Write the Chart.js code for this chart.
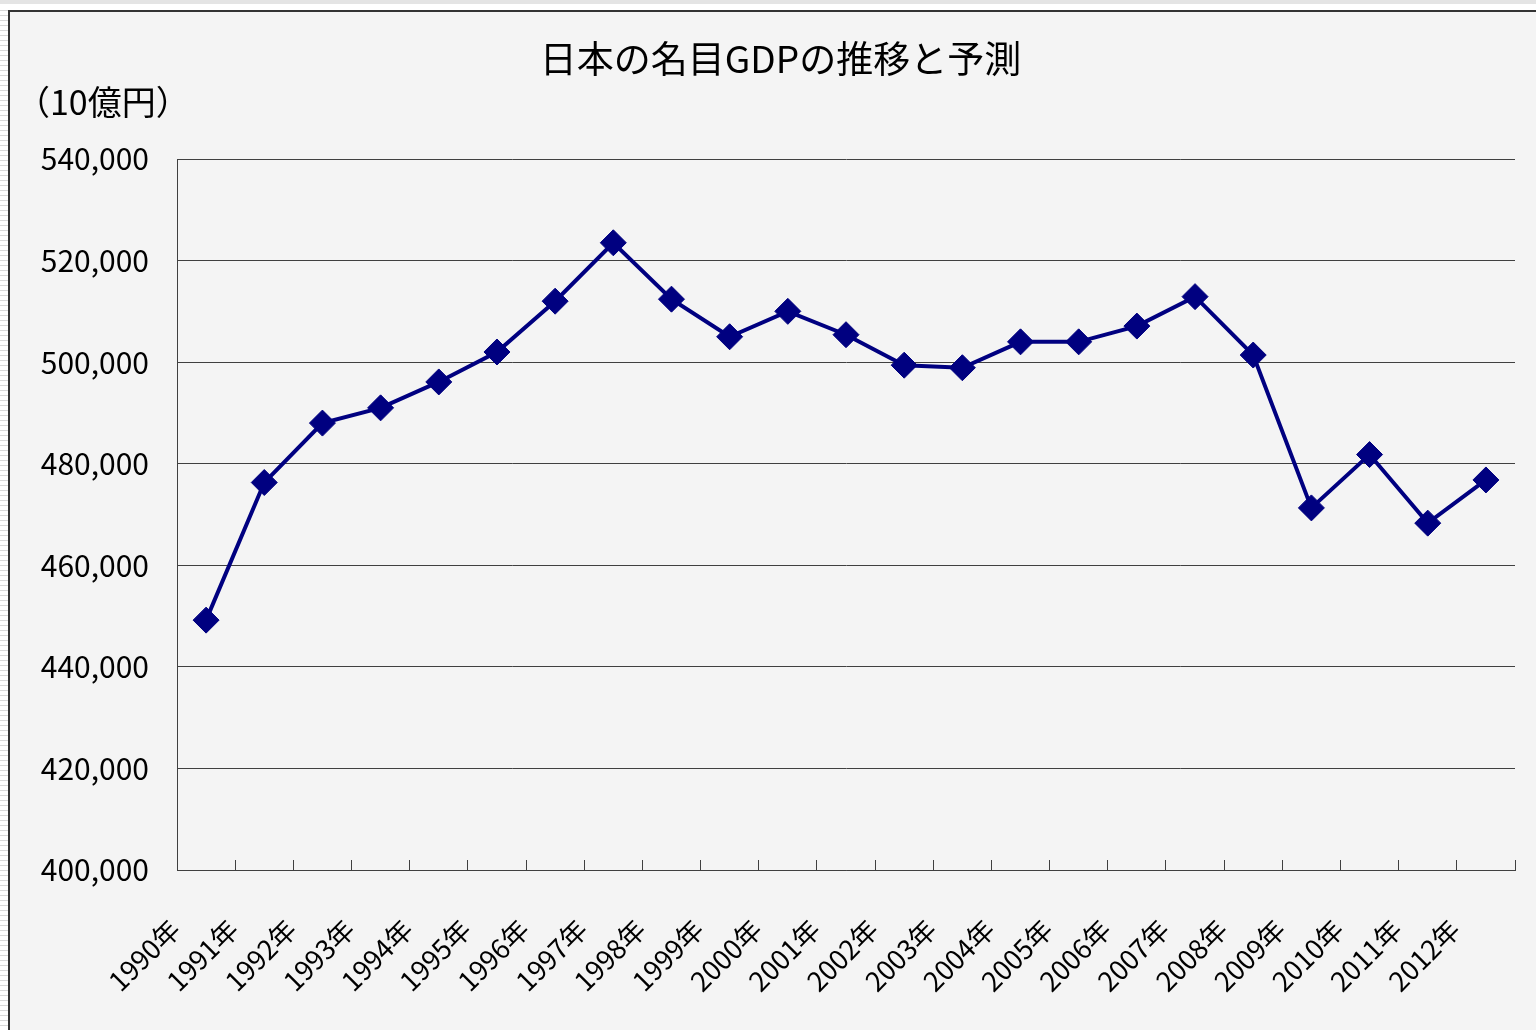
<!DOCTYPE html>
<html lang="ja">
<head>
<meta charset="utf-8">
<script src="https://cdn.jsdelivr.net/npm/chart.js@4/dist/chart.umd.min.js"></script>
<style>
  html, body { margin: 0; padding: 0; background: #ffffff; width: 1536px; height: 1030px; overflow: hidden; }
  #topstrip { position: absolute; left: 0; top: 0; width: 1536px; height: 4px; background: #e4e4e4; }
  #leftstrip { position: absolute; left: 0; top: 10px; width: 8px; height: 1020px;
    background: repeating-linear-gradient(to bottom, #d8d8d8 0px, #d8d8d8 1px, #ffffff 1px, #ffffff 5px); }
  #wrap { position: absolute; left: 8px; top: 10px; width: 1526px; height: 1018px;
    border-top: 2px solid #333; border-left: 2px solid #333; background: #f4f4f4; }
  #wrap canvas { display: block; }
</style>
</head>
<body>
<div id="topstrip"></div>
<div id="leftstrip"></div>
<div id="wrap"><canvas id="c" width="1526" height="1018"></canvas></div>
<script>
const chartTitle = '日本の名目GDPの推移と予測';
const unitLabel = '（10億円）';
const categories = ['1990年','1991年','1992年','1993年','1994年','1995年','1996年','1997年','1998年','1999年','2000年','2001年','2002年','2003年','2004年','2005年','2006年','2007年','2008年','2009年','2010年','2011年','2012年'];
const gdpValues = [449200, 476300, 488000, 491000, 496100, 502000, 512000, 523500, 512400, 505000, 510000, 505400, 499400, 498900, 504000, 504000, 507100, 512900, 501400, 471300, 481800, 468300, 476800];
const yMin = 400000;
const yMax = 540000;
const yStep = 20000;

const FONT = '"Noto Sans CJK JP", "Noto Sans", sans-serif';

const unitLabelPlugin = {
  id: 'unitLabel',
  afterDraw(chart) {
    const ctx = chart.ctx;
    ctx.save();
    ctx.font = '34px ' + FONT;
    ctx.fillStyle = '#000';
    ctx.textAlign = 'left';
    ctx.textBaseline = 'middle';
    ctx.fillText(unitLabel, 6, 90);
    ctx.restore();
  }
};

new Chart(document.getElementById('c'), {
  type: 'line',
  data: {
    labels: categories,
    datasets: [{
      data: gdpValues,
      borderColor: '#000080',
      backgroundColor: '#000080',
      borderWidth: 4,
      tension: 0,
      pointStyle: 'rectRot',
      pointRadius: 13,
      pointHoverRadius: 13,
      pointBorderWidth: 1,
      pointBackgroundColor: '#000080',
      pointBorderColor: '#000080'
    }]
  },
  options: {
    responsive: false,
    animation: false,
    layout: { padding: { left: 0, right: -15, top: 0, bottom: 0 } },
    plugins: {
      legend: { display: false },
      tooltip: { enabled: false },
      title: {
        display: true,
        text: chartTitle,
        color: '#000',
        font: { family: FONT, size: 37, weight: 'normal', lineHeight: 1.2 },
        padding: { top: 25, bottom: 77.6 }
      }
    },
    scales: {
      x: {
        type: 'category',
        offset: true,
        grid: {
          offset: true,
          drawOnChartArea: false,
          drawTicks: true,
          tickLength: -10,
          color: '#404040',
          lineWidth: 1
        },
        border: { display: true, color: '#404040', width: 1 },
        ticks: {
          autoSkip: false,
          minRotation: 45,
          maxRotation: 45,
          labelOffset: -31,
          padding: 53,
          color: '#000',
          font: { family: FONT, size: 27 }
        },
        afterFit(scale) { scale.height = 160; scale.paddingLeft = 0; scale.paddingRight = 21; }
      },
      y: {
        min: yMin,
        max: yMax,
        ticks: {
          stepSize: yStep,
          padding: 28,
          color: '#000',
          font: { family: FONT, size: 30 },
          callback: (v) => Number(v).toLocaleString('en-US')
        },
        grid: { color: '#404040', lineWidth: 1, drawTicks: false },
        border: { display: true, color: '#404040', width: 1 },
        afterFit(scale) { scale.width = 167; }
      }
    }
  },
  plugins: [unitLabelPlugin]
});
</script>
</body>
</html>
